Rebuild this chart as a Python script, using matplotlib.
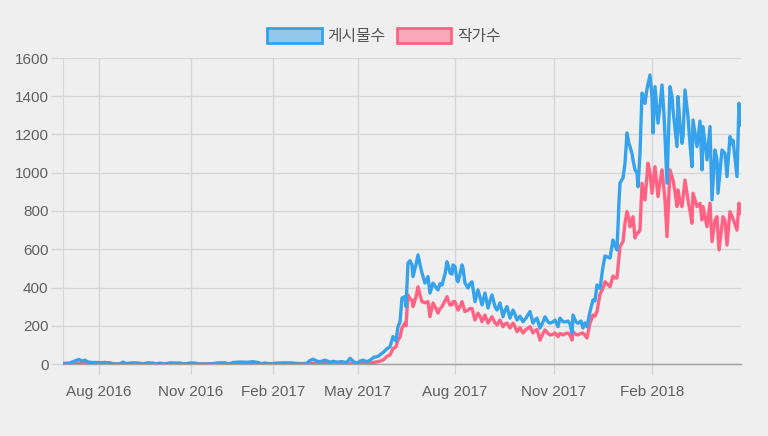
import numpy as np
import matplotlib
matplotlib.use("Agg")
import matplotlib.pyplot as plt
from matplotlib.patches import Patch

# point index along the series (Chart.js "series" spacing) and daily counts
posts_idx = [0, 7, 10, 13, 16, 19, 22, 25, 29, 33, 37, 42, 47, 51, 57, 60, 63, 67, 72, 77,
             80, 84, 90, 93, 97, 101, 107, 112, 117, 121, 127, 132, 135, 147, 155, 162, 166, 170, 177, 184,
             190, 195, 199, 202, 207, 214, 222, 230, 237, 243, 247, 250, 254, 257, 262, 267, 270, 274, 279, 284,
             287, 291, 294, 297, 300, 304, 307, 311, 315, 320, 324, 327, 330, 333, 335, 337, 339, 342, 343, 345,
             347, 349, 350, 353, 355, 357, 359, 362, 365, 367, 370, 373, 375, 377, 379, 382, 384, 386, 387, 389,
             390, 392, 394, 395, 397, 399, 400, 402, 405, 407, 409, 412, 415, 417, 419, 422, 425, 427, 429, 432,
             434, 437, 440, 442, 444, 447, 450, 452, 454, 457, 460, 463, 467, 470, 472, 474, 477, 480, 482, 485,
             487, 490, 492, 495, 497, 500, 503, 505, 507, 509, 510, 513, 515, 518, 520, 522, 524, 527, 530, 532,
             534, 537, 540, 542, 544, 547, 550, 552, 554, 556, 557, 560, 562, 564, 566, 567, 569, 570, 572, 574,
             575, 577, 579, 581, 582, 584, 587, 589, 590, 592, 595, 597, 599, 601, 602, 604, 607, 609, 610, 614,
             615, 617, 619, 620, 622, 625, 627, 629, 630, 634, 637, 639, 640, 644, 647, 649, 652, 654, 655, 659,
             662, 664, 667, 669, 670, 674, 676, 678]
posts = [3, 5, 12, 18, 24, 15, 20, 10, 8, 8, 7, 8, 6, 0, 0, 10, 2, 5, 6, 4,
         0, 6, 5, 0, 5, 0, 6, 5, 5, 0, 5, 5, 0, 0, 6, 6, 0, 8, 10, 9,
         12, 8, 0, 5, 0, 5, 6, 5, 0, 0, 18, 25, 15, 12, 20, 10, 14, 10, 12, 8,
         30, 10, 5, 15, 20, 12, 20, 35, 40, 60, 80, 90, 143, 120, 195, 220, 345, 352, 300, 528,
         540, 518, 457, 520, 570, 520, 476, 423, 457, 371, 423, 400, 387, 420, 413, 470, 535, 500, 476, 470,
         518, 509, 440, 430, 470, 518, 500, 423, 397, 420, 430, 326, 387, 350, 309, 371, 293, 330, 361, 300,
         282, 319, 247, 280, 300, 240, 282, 260, 230, 250, 221, 240, 274, 214, 230, 240, 188, 220, 247, 220,
         214, 220, 230, 195, 240, 221, 220, 225, 210, 162, 256, 220, 213, 225, 188, 215, 195, 274, 335, 330,
         413, 395, 509, 565, 561, 554, 648, 620, 596, 850, 946, 973, 1050, 1208, 1150, 1137, 1100, 1067, 1015, 998,
         927, 1100, 1416, 1390, 1363, 1440, 1511, 1400, 1208, 1450, 1260, 1350, 1459, 1300, 1189, 946, 1450, 1400, 1328, 1137,
         1398, 1250, 1154, 1190, 1433, 1293, 1150, 1032, 1276, 1137, 1270, 1015, 1241, 1067, 1241, 858, 1119, 1067, 893, 1119,
         1100, 980, 1189, 1150, 1170, 980, 1363, 1250]

authors_idx = [0, 17, 22, 27, 37, 87, 137, 182, 192, 217, 257, 282, 292, 302, 307, 315, 320, 324, 327, 330,
               333, 335, 337, 339, 342, 343, 345, 347, 349, 350, 353, 355, 357, 359, 362, 365, 367, 370, 373, 375,
               377, 379, 382, 384, 386, 387, 389, 390, 392, 395, 397, 399, 402, 405, 407, 409, 412, 415, 417, 419,
               422, 425, 427, 429, 432, 434, 437, 440, 442, 444, 447, 450, 452, 454, 457, 460, 463, 467, 470, 472,
               474, 477, 480, 482, 485, 487, 490, 492, 495, 497, 500, 503, 505, 507, 509, 510, 513, 515, 518, 520,
               522, 524, 527, 530, 532, 534, 537, 540, 542, 544, 547, 550, 552, 554, 556, 557, 560, 562, 564, 566,
               567, 569, 570, 572, 574, 575, 577, 579, 582, 585, 587, 589, 592, 595, 597, 599, 602, 604, 607, 610,
               612, 614, 615, 617, 619, 622, 625, 627, 629, 630, 634, 637, 639, 640, 644, 647, 649, 652, 654, 656,
               660, 662, 664, 667, 670, 674, 676, 678]
authors = [0, 4, 5, 2, 1, 1, 1, 2, 3, 2, 3, 3, 2, 3, 5, 12, 20, 40, 47, 80,
           90, 125, 140, 188, 214, 200, 361, 340, 335, 300, 350, 404, 360, 326, 320, 326, 247, 319, 290, 266,
           290, 300, 330, 352, 320, 308, 310, 326, 326, 282, 300, 326, 274, 282, 290, 290, 230, 266, 250, 221,
           256, 214, 230, 247, 215, 204, 230, 195, 210, 214, 188, 214, 195, 169, 190, 162, 180, 195, 162, 175,
           180, 125, 160, 178, 160, 152, 155, 162, 143, 160, 152, 160, 162, 150, 125, 169, 155, 152, 160, 162,
           150, 136, 214, 256, 250, 274, 365, 396, 430, 420, 404, 460, 450, 450, 560, 614, 640, 737, 797, 760,
           718, 740, 770, 659, 685, 685, 700, 945, 858, 1050, 1000, 893, 1032, 875, 950, 1015, 858, 666, 1015, 962,
           900, 823, 910, 850, 823, 962, 858, 800, 736, 893, 823, 840, 753, 823, 718, 841, 640, 753, 770, 596,
           770, 750, 622, 797, 760, 700, 841, 788]

tick_idx = [36, 128, 210, 295, 392, 491, 589]
tick_labels = ["Aug 2016", "Nov 2016", "Feb 2017", "May 2017", "Aug 2017", "Nov 2017", "Feb 2018"]
series_names = ["게시물수", "작가수"]

blue = "#36a2eb"
red = "#ff6384"
bg = "#efefef"
grid_c = "#d6d6d6"

plt.rcParams['font.family'] = ['Liberation Sans', 'DejaVu Sans']

fig = plt.figure(figsize=(7.68, 4.36), dpi=100, facecolor=bg)
ax = fig.add_axes([63 / 768, 1 - 364 / 436, (740.5 - 63) / 768, (364 - 58) / 436])
ax.set_facecolor(bg)

ax.plot(authors_idx, authors, color=red, lw=2.4, zorder=3, solid_joinstyle='round')
ax.plot(posts_idx, posts, color=blue, lw=2.4, zorder=4, solid_joinstyle='round')

ax.set_xlim(0, 677.5)
ax.set_ylim(0, 1600)
ax.set_yticks(np.arange(0, 1601, 200))
ax.set_xticks(tick_idx)
ax.set_xticklabels(tick_labels)

ax.grid(True, color=grid_c, lw=1.0, zorder=0)
ax.tick_params(axis='both', colors=grid_c, labelcolor='#606060', labelsize=11)
ax.tick_params(axis='y', length=9, width=1.0, pad=1.5)
ax.tick_params(axis='x', length=7, width=1.0, pad=8)

for s in ['top', 'right']:
    ax.spines[s].set_visible(False)
ax.spines['left'].set_color(grid_c)
ax.spines['bottom'].set_color('#a0a0a0')
ax.spines['bottom'].set_linewidth(1.0)

handles = [Patch(facecolor=(54 / 255, 162 / 255, 235 / 255, 0.5), edgecolor=blue, linewidth=2),
           Patch(facecolor=(1.0, 99 / 255, 132 / 255, 0.5), edgecolor=red, linewidth=2)]
leg = fig.legend(handles, series_names, loc='center', bbox_to_anchor=(0.5, 1 - 36.7 / 436),
                 ncol=2, frameon=False, handlelength=3.45, handleheight=1.1,
                 handletextpad=0.38, columnspacing=0.7,
                 prop={'family': ['Noto Sans CJK KR', 'DejaVu Sans'], 'size': 11.4})
for t in leg.get_texts():
    t.set_color('#555555')

fig.savefig("out.png", dpi=100, facecolor=bg)
